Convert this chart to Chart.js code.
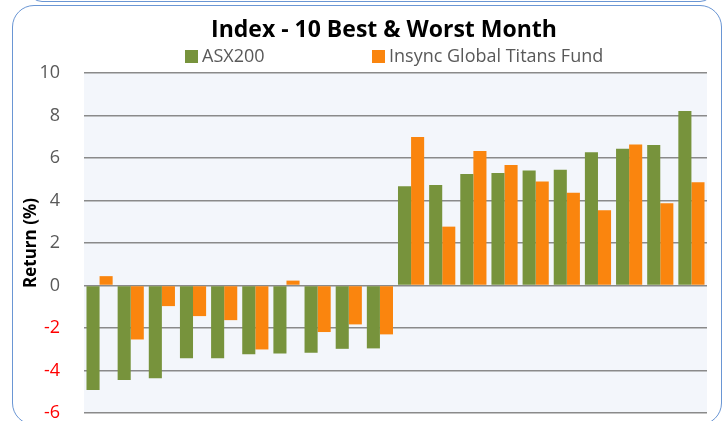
<!DOCTYPE html>
<html>
<head>
  <meta charset="UTF-8">
  <title>Index - 10 Best & Worst Month</title>
  <style>
    body {
      margin: 0;
      background: #fff;
      font-family: 'Open Sans', sans-serif;
    }
    .wrap {
      position: relative;
      width: 727px;
      height: 421px;
      overflow: hidden;
    }
    .frame {
      position: absolute;
      left: 12px;
      top: 5px;
      width: 708px;
      height: 418px;
      border: 1.5px solid #6a96d4;
      border-radius: 22px;
    }
    .frame-top {
      position: absolute;
      left: 28px;
      top: -40px;
      width: 684px;
      height: 40px;
      border: 1.5px solid #6a96d4;
      border-radius: 14px;
    }
    canvas {
      position: absolute;
      left: 0;
      top: 0;
    }
    .legend-item {
      position: absolute;
      top: 44px;
      font-size: 18px;
      color: #595959;
      line-height: 22px;
      white-space: nowrap;
    }
    .legend-item span {
      display: inline-block;
      width: 13px;
      height: 13px;
      margin-right: 4px;
      vertical-align: -1px;
    }
  </style>
  <script src="https://cdn.jsdelivr.net/npm/chart.js"></script>
</head>
<body>
  <div class="wrap">
    <div class="frame-top"></div>
    <div class="frame"></div>
    <canvas id="chart" width="727" height="421"></canvas>
    <div class="legend-item" style="left:185px"><span style="background:#77933c"></span>ASX200</div>
    <div class="legend-item" style="left:372px"><span style="background:#fa850e"></span>Insync Global Titans Fund</div>
  </div>

  <script>
    // 10 worst months then 10 best months
    const months = ['W1', 'W2', 'W3', 'W4', 'W5', 'W6', 'W7', 'W8', 'W9', 'W10',
                    'B10', 'B9', 'B8', 'B7', 'B6', 'B5', 'B4', 'B3', 'B2', 'B1'];
    const asx200 = [-4.92, -4.45, -4.37, -3.42, -3.42, -3.23, -3.20, -3.17, -2.98, -2.96,
                    4.67, 4.73, 5.25, 5.30, 5.41, 5.45, 6.27, 6.43, 6.61, 8.21];
    const insync = [0.44, -2.54, -0.97, -1.44, -1.63, -3.01, 0.23, -2.19, -1.83, -2.30,
                    6.99, 2.77, 6.33, 5.67, 4.89, 4.37, 3.54, 6.63, 3.87, 4.86];
    const yTicks = [-6, -4, -2, 0, 2, 4, 6, 8, 10];

    // light blue plot background + title nudged to where the original sits
    const plotBg = {
      id: 'plotBg',
      afterLayout(chart) {
        chart.titleBlock.left = 61;
      },
      beforeDraw(chart) {
        const { ctx, chartArea: a } = chart;
        ctx.save();
        ctx.fillStyle = '#f3f6fb';
        ctx.fillRect(a.left, a.top, a.right - a.left, a.bottom - a.top);
        ctx.restore();
      }
    };

    new Chart(document.getElementById('chart'), {
      type: 'bar',
      data: {
        labels: months,
        datasets: [{
          label: 'ASX200',
          data: asx200,
          backgroundColor: '#77933c',
          categoryPercentage: 0.84,
          barPercentage: 1.0
        }, {
          label: 'Insync Global Titans Fund',
          data: insync,
          backgroundColor: '#fa850e',
          categoryPercentage: 0.84,
          barPercentage: 1.0
        }]
      },
      options: {
        responsive: false,
        animation: false,
        layout: {
          padding: { left: 14, right: 20, top: 0, bottom: 8 }
        },
        plugins: {
          legend: { display: false },
          tooltip: { enabled: false },
          title: {
            display: true,
            text: 'Index - 10 Best & Worst Month',
            color: '#000',
            font: { family: 'Open Sans', size: 23, weight: 'bold' },
            padding: { top: 17, bottom: 28.4 }
          }
        },
        scales: {
          x: {
            display: false
          },
          y: {
            min: -6,
            max: 10,
            afterFit(scale) { scale.width = 70; },
            afterBuildTicks(scale) { scale.ticks = yTicks.map(v => ({ value: v })); },
            border: { display: false },
            grid: { color: '#8a8a8a', lineWidth: 1.5, drawTicks: true, tickLength: 24, tickColor: 'rgba(0,0,0,0)' },
            ticks: {
              autoSkip: false,
              padding: 0,
              font: { family: 'Open Sans', size: 18, lineHeight: 0.8 },
              color: ctx => ctx.tick.value < 0 ? '#ff0000' : '#595959'
            },
            title: {
              display: true,
              text: 'Return (%)',
              color: '#000',
              font: { family: 'Open Sans', size: 17, weight: 'bold' },
              padding: { top: 7, bottom: 0 }
            }
          }
        }
      },
      plugins: [plotBg]
    });
  </script>
</body>
</html>
